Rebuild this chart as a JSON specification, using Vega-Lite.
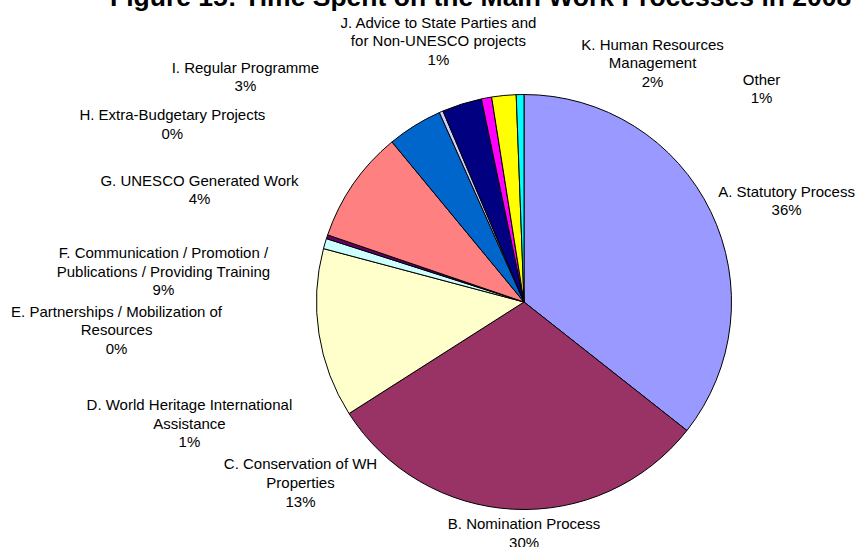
{
  "$schema": "https://vega.github.io/schema/vega-lite/v6.json",
  "autosize": "none",
  "width": 666,
  "height": 490,
  "padding": {"left": 191, "top": 57, "right": 0, "bottom": 0},
  "background": "white",
  "config": {"view": {"stroke": null}},
  "title": {
    "text": "Figure 15: Time Spent on the Main Work Processes in 2008",
    "font": "Liberation Sans", "fontSize": 26.5, "fontWeight": "bold", "color": "black",
    "anchor": "start", "frame": "group", "dx": -81, "offset": 0, "dy": 20, "baseline": "alphabetic"
  },
  "data": {"values": [
    {"code": "A", "value": 35.7, "label": "A. Statutory Process\n36%"},
    {"code": "B", "value": 30.4, "label": "B. Nomination Process\n30%"},
    {"code": "C", "value": 13.2, "label": "C. Conservation of WH\nProperties\n13%"},
    {"code": "D", "value": 0.8, "label": "D. World Heritage International\nAssistance\n1%"},
    {"code": "E", "value": 0.3, "label": "E. Partnerships / Mobilization of\nResources\n0%"},
    {"code": "F", "value": 8.8, "label": "F. Communication / Promotion /\nPublications / Providing Training\n9%"},
    {"code": "G", "value": 4.3, "label": "G. UNESCO Generated Work\n4%"},
    {"code": "H", "value": 0.3, "label": "H. Extra-Budgetary Projects\n0%"},
    {"code": "I", "value": 3.1, "label": "I. Regular Programme\n3%"},
    {"code": "J", "value": 0.8, "label": "J. Advice to State Parties and\nfor Non-UNESCO projects\n1%"},
    {"code": "K", "value": 1.9, "label": "K. Human Resources\nManagement\n2%"},
    {"code": "Other", "value": 0.6, "label": "Other\n1%"}
  ]},
  "encoding": {
    "theta": {"field": "value", "type": "quantitative", "stack": true},
    "order": {"field": "code", "sort": "ascending"}
  },
  "layer": [
    {
      "mark": {"type": "arc", "outerRadius": 207.5, "stroke": "black", "strokeWidth": 1},
      "encoding": {
        "color": {"field": "code", "type": "nominal", "legend": null,
          "scale": {"domain": ["A","B","C","D","E","F","G","H","I","J","K","Other"],
            "range": ["#9999FF","#993366","#FFFFCC","#CCFFFF","#660066","#FF8080","#0066CC","#CCCCFF","#000080","#FF00FF","#FFFF00","#00FFFF"]}}
      }
    },
    {"mark": {"type": "text", "radius": 230, "dx": 55.6, "dy": -9.85, "font": "Liberation Sans", "fontSize": 15, "lineBreak": "\n", "lineHeight": 18.7, "align": "center", "baseline": "middle", "color": "black"},
     "encoding": {"detail": {"field": "code"}, "text": {"condition": {"test": "datum.code === 'A'", "field": "label"}, "value": ""}}},
    {"mark": {"type": "text", "radius": 230, "dx": 11.6, "dy": -7.55, "font": "Liberation Sans", "fontSize": 15, "lineBreak": "\n", "lineHeight": 18.7, "align": "center", "baseline": "middle", "color": "black"},
     "encoding": {"detail": {"field": "code"}, "text": {"condition": {"test": "datum.code === 'B'", "field": "label"}, "value": ""}}},
    {"mark": {"type": "text", "radius": 230, "dx": 3.8, "dy": 127.1, "font": "Liberation Sans", "fontSize": 15, "lineBreak": "\n", "lineHeight": 18.7, "align": "center", "baseline": "middle", "color": "black"},
     "encoding": {"detail": {"field": "code"}, "text": {"condition": {"test": "datum.code === 'C'", "field": "label"}, "value": ""}}},
    {"mark": {"type": "text", "radius": 230, "dx": -113.9, "dy": 167.7, "font": "Liberation Sans", "fontSize": 15, "lineBreak": "\n", "lineHeight": 18.7, "align": "center", "baseline": "middle", "color": "black"},
     "encoding": {"detail": {"field": "code"}, "text": {"condition": {"test": "datum.code === 'D'", "field": "label"}, "value": ""}}},
    {"mark": {"type": "text", "radius": 230, "dx": -189.1, "dy": 82.0, "font": "Liberation Sans", "fontSize": 15, "lineBreak": "\n", "lineHeight": 18.7, "align": "center", "baseline": "middle", "color": "black"},
     "encoding": {"detail": {"field": "code"}, "text": {"condition": {"test": "datum.code === 'E'", "field": "label"}, "value": ""}}},
    {"mark": {"type": "text", "radius": 230, "dx": -171.4, "dy": 81.7, "font": "Liberation Sans", "fontSize": 15, "lineBreak": "\n", "lineHeight": 18.7, "align": "center", "baseline": "middle", "color": "black"},
     "encoding": {"detail": {"field": "code"}, "text": {"condition": {"test": "datum.code === 'F'", "field": "label"}, "value": ""}}},
    {"mark": {"type": "text", "radius": 230, "dx": -203.3, "dy": 74.15, "font": "Liberation Sans", "fontSize": 15, "lineBreak": "\n", "lineHeight": 18.7, "align": "center", "baseline": "middle", "color": "black"},
     "encoding": {"detail": {"field": "code"}, "text": {"condition": {"test": "datum.code === 'G'", "field": "label"}, "value": ""}}},
    {"mark": {"type": "text", "radius": 230, "dx": -259.8, "dy": 24.05, "font": "Liberation Sans", "fontSize": 15, "lineBreak": "\n", "lineHeight": 18.7, "align": "center", "baseline": "middle", "color": "black"},
     "encoding": {"detail": {"field": "code"}, "text": {"condition": {"test": "datum.code === 'H'", "field": "label"}, "value": ""}}},
    {"mark": {"type": "text", "radius": 230, "dx": -209.7, "dy": -14.85, "font": "Liberation Sans", "fontSize": 15, "lineBreak": "\n", "lineHeight": 18.7, "align": "center", "baseline": "middle", "color": "black"},
     "encoding": {"detail": {"field": "code"}, "text": {"condition": {"test": "datum.code === 'I'", "field": "label"}, "value": ""}}},
    {"mark": {"type": "text", "radius": 230, "dx": -44, "dy": -53.0, "font": "Liberation Sans", "fontSize": 15, "lineBreak": "\n", "lineHeight": 18.7, "align": "center", "baseline": "middle", "color": "black"},
     "encoding": {"detail": {"field": "code"}, "text": {"condition": {"test": "datum.code === 'J'", "field": "label"}, "value": ""}}},
    {"mark": {"type": "text", "radius": 230, "dx": 150.9, "dy": -28.3, "font": "Liberation Sans", "fontSize": 15, "lineBreak": "\n", "lineHeight": 18.7, "align": "center", "baseline": "middle", "color": "black"},
     "encoding": {"detail": {"field": "code"}, "text": {"condition": {"test": "datum.code === 'K'", "field": "label"}, "value": ""}}},
    {"mark": {"type": "text", "radius": 230, "dx": 241.9, "dy": 7.65, "font": "Liberation Sans", "fontSize": 15, "lineBreak": "\n", "lineHeight": 18.7, "align": "center", "baseline": "middle", "color": "black"},
     "encoding": {"detail": {"field": "code"}, "text": {"condition": {"test": "datum.code === 'Other'", "field": "label"}, "value": ""}}}
  ]
}
